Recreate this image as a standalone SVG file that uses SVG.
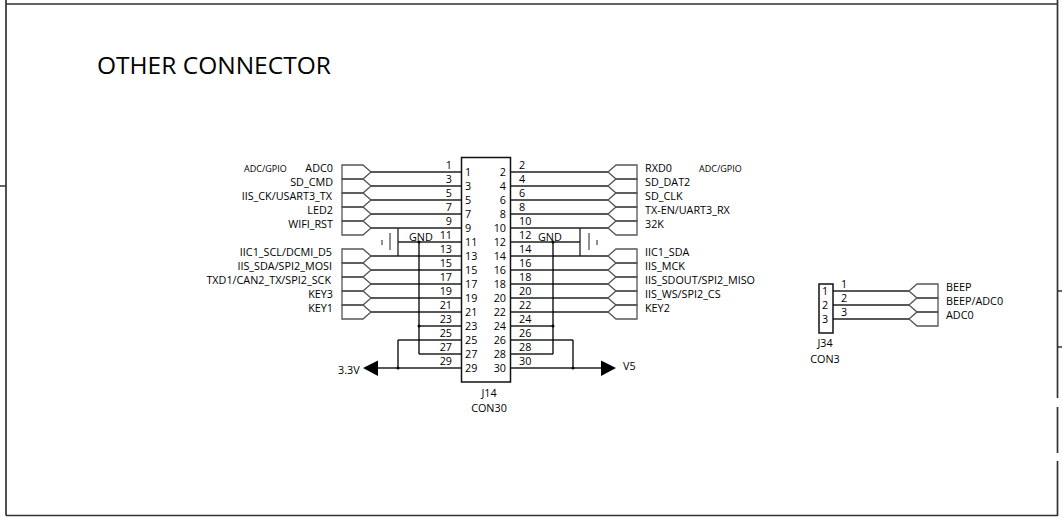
<svg xmlns="http://www.w3.org/2000/svg" width="1062" height="520" viewBox="0 0 1062 520">
<style>
text{font-family:"Open Sans","Noto Sans","DejaVu Sans",sans-serif;font-size:10.8px;fill:#000}
.e{text-anchor:end}
.s{font-size:9px}
.t{font-size:24.500px}
.c{text-anchor:middle}
.w{fill:none;stroke:#222;stroke-width:1.3}
.g{fill:none;stroke:#555;stroke-width:1.3}
.b{fill:none;stroke:#000;stroke-width:1.3}
.f{fill:none;stroke:#333;stroke-width:1.7}
.box{fill:#fff;stroke:#111;stroke-width:1.5}
.d{fill:#000}
</style>
<defs>
<path id="pl" class="g" d="M363 -7H342V7H363L371 0Z"/>
<path id="pr" class="g" d="M637 -7H616L608 0L616 7H637Z"/>
<path id="p3" class="g" d="M938 -7H917L909 0L917 7H938Z"/>
</defs>
<g id="frame">
<path class="f" d="M6 4H1057M6 0V515.500M6 515.500H1057.500M1057.500 0V398M1057.500 407V453M1057.500 461V516M0 186H6M1057 291H1062M1057 347H1062"/>
</g>
<text id="title" class="t" x="97" y="74">OTHER CONNECTOR</text>
<g id="connectors">
<path class="w" d="M371 172H461M371 186H461M371 200H461M371 214H461M371 228H461M398 242H461M371 256H461M371 270H461M371 284H461M371 298H461M371 312H461M419 326H461M398 340H461M419 354H461M377 368H461"/>
<path class="w" d="M511 172H608M511 186H608M511 200H608M511 214H608M511 228H608M511 242H580M511 256H608M511 270H608M511 284H608M511 298H608M511 312H608M511 326H553M511 340H573M511 354H553M511 368H602"/>
<path class="b" d="M419 242V354M553 242V354M398 340V368M573 340V368"/>
<path class="w" d="M398 228V256M580 228V256"/>
<path class="w" d="M833 291H909M833 305H909M833 319H909"/>
</g>
<g id="caps">
<path class="g" d="M390 233V250M589 233V250"/>
<path class="g" d="M382 240V245M597 240V245"/>
</g>
<g id="dots">
<circle class="d" cx="419" cy="242" r="1.5"/><circle class="d" cx="419" cy="326" r="1.5"/><circle class="d" cx="398" cy="368" r="1.5"/>
<circle class="d" cx="553" cy="242" r="1.5"/><circle class="d" cx="553" cy="326" r="1.5"/><circle class="d" cx="573" cy="368" r="1.5"/>
</g>
<g id="J14">
<rect class="box" x="461.500" y="157.500" width="49" height="224.500"/>
<text x="465" y="176">1</text><text x="465" y="190">3</text><text x="465" y="204">5</text><text x="465" y="218">7</text><text x="465" y="232">9</text><text x="465" y="246">11</text><text x="465" y="260">13</text><text x="465" y="274">15</text><text x="465" y="288">17</text><text x="465" y="302">19</text><text x="465" y="316">21</text><text x="465" y="330">23</text><text x="465" y="344">25</text><text x="465" y="358">27</text><text x="465" y="372">29</text>
<text class="e" x="506" y="176">2</text><text class="e" x="506" y="190">4</text><text class="e" x="506" y="204">6</text><text class="e" x="506" y="218">8</text><text class="e" x="506" y="232">10</text><text class="e" x="506" y="246">12</text><text class="e" x="506" y="260">14</text><text class="e" x="506" y="274">16</text><text class="e" x="506" y="288">18</text><text class="e" x="506" y="302">20</text><text class="e" x="506" y="316">22</text><text class="e" x="506" y="330">24</text><text class="e" x="506" y="344">26</text><text class="e" x="506" y="358">28</text><text class="e" x="506" y="372">30</text>
<text class="e" x="452" y="169">1</text><text class="e" x="452" y="183">3</text><text class="e" x="452" y="197">5</text><text class="e" x="452" y="211">7</text><text class="e" x="452" y="225">9</text><text class="e" x="452" y="239">11</text><text class="e" x="452" y="253">13</text><text class="e" x="452" y="267">15</text><text class="e" x="452" y="281">17</text><text class="e" x="452" y="295">19</text><text class="e" x="452" y="309">21</text><text class="e" x="452" y="323">23</text><text class="e" x="452" y="337">25</text><text class="e" x="452" y="351">27</text><text class="e" x="452" y="365">29</text>
<text x="519" y="169">2</text><text x="519" y="183">4</text><text x="519" y="197">6</text><text x="519" y="211">8</text><text x="519" y="225">10</text><text x="519" y="239">12</text><text x="519" y="253">14</text><text x="519" y="267">16</text><text x="519" y="281">18</text><text x="519" y="295">20</text><text x="519" y="309">22</text><text x="519" y="323">24</text><text x="519" y="337">26</text><text x="519" y="351">28</text><text x="519" y="365">30</text>
<text class="c" x="489" y="397">J14</text>
<text class="c" x="489" y="412">CON30</text>
</g>
<g id="gnd-left"><text x="409" y="241">GND</text></g>
<g id="gnd-right"><text x="538" y="241">GND</text></g>
<g id="ports-left">
<use href="#pl" y="172"/><use href="#pl" y="186"/><use href="#pl" y="200"/><use href="#pl" y="214"/><use href="#pl" y="228"/>
<use href="#pl" y="256"/><use href="#pl" y="270"/><use href="#pl" y="284"/><use href="#pl" y="298"/><use href="#pl" y="312"/>
<text class="s" x="244" y="172">ADC/GPIO</text>
<text class="e" x="333" y="172">ADC0</text><text class="e" x="333" y="186">SD_CMD</text><text class="e" x="332" y="200">IIS_CK/USART3_TX</text><text class="e" x="333" y="214">LED2</text><text class="e" x="333" y="228">WIFI_RST</text>
<text class="e" x="332" y="256">IIC1_SCL/DCMI_D5</text><text class="e" x="332" y="270">IIS_SDA/SPI2_MOSI</text><text class="e" x="331" y="284">TXD1/CAN2_TX/SPI2_SCK</text><text class="e" x="333" y="298">KEY3</text><text class="e" x="333" y="312">KEY1</text>
</g>
<g id="ports-right">
<use href="#pr" y="172"/><use href="#pr" y="186"/><use href="#pr" y="200"/><use href="#pr" y="214"/><use href="#pr" y="228"/>
<use href="#pr" y="256"/><use href="#pr" y="270"/><use href="#pr" y="284"/><use href="#pr" y="298"/><use href="#pr" y="312"/>
<text x="645" y="172">RXD0</text><text class="s" x="699" y="172">ADC/GPIO</text>
<text x="645" y="186">SD_DAT2</text><text x="645" y="200">SD_CLK</text><text x="645" y="214">TX-EN/UART3_RX</text><text x="645" y="228">32K</text>
<text x="645" y="256">IIC1_SDA</text><text x="645" y="270">IIS_MCK</text><text x="645" y="284">IIS_SDOUT/SPI2_MISO</text><text x="645" y="298">IIS_WS/SPI2_CS</text><text x="645" y="312">KEY2</text>
</g>
<g id="power-3v3">
<path d="M363 368L378 360.500V376Z" fill="#000"/>
<text x="338" y="374">3.3V</text>
</g>
<g id="power-v5">
<path d="M616 368L601 360.500V376Z" fill="#000"/>
<text x="623" y="370">V5</text>
</g>
<g id="J34">
<rect class="box" x="819" y="284" width="14" height="49"/>
<text x="822" y="295">1</text><text x="822" y="309">2</text><text x="822" y="323">3</text>
<text x="841" y="288">1</text><text x="841" y="302">2</text><text x="841" y="316">3</text>
<text class="c" x="825" y="347">J34</text>
<text class="c" x="825" y="363">CON3</text>
</g>
<g id="ports-j34">
<use href="#p3" y="291"/><use href="#p3" y="305"/><use href="#p3" y="319"/>
<text x="946" y="291">BEEP</text><text x="946" y="305">BEEP/ADC0</text><text x="946" y="319">ADC0</text>
</g>
</svg>
